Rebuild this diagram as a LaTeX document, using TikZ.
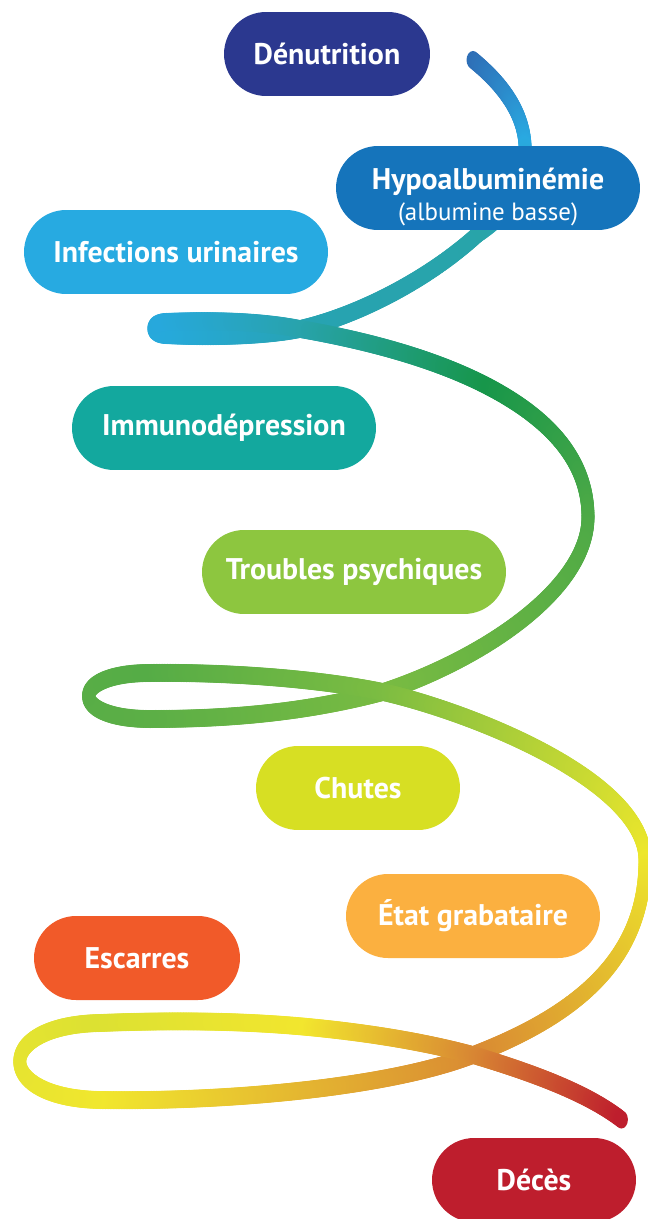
\documentclass[tikz,border=0pt]{standalone}
\usepackage{fontspec}
\setmainfont{PT Sans}
\usetikzlibrary{shapes.misc,decorations.markings}

% node colours
\definecolor{denutri}{HTML}{2B388F}
\definecolor{hypoalb}{HTML}{1574BB}
\definecolor{infect}{HTML}{27AAE1}
\definecolor{immuno}{HTML}{13A89E}
\definecolor{trouble}{HTML}{8DC63F}
\definecolor{chute}{HTML}{D7DF23}
\definecolor{grabat}{HTML}{FBB040}
\definecolor{escarre}{HTML}{F15A29}
\definecolor{deces}{HTML}{BE1E2D}
% spiral colours, from start to end
\definecolor{sp0}{HTML}{2E6EB6}
\definecolor{sp1}{HTML}{29A9E1}
\definecolor{sp2}{HTML}{28A4A9}
\definecolor{sp3}{HTML}{27A3B2}
\definecolor{sp4}{HTML}{26A9DA}
\definecolor{sp5}{HTML}{27A8DC}
\definecolor{sp6}{HTML}{28A3AE}
\definecolor{sp7}{HTML}{17964A}
\definecolor{sp8}{HTML}{4CA946}
\definecolor{sp9}{HTML}{79BB42}
\definecolor{sp10}{HTML}{5CAF46}
\definecolor{sp11}{HTML}{55AC46}
\definecolor{sp12}{HTML}{7BBC42}
\definecolor{sp13}{HTML}{EDE72B}
\definecolor{sp14}{HTML}{D98A33}
\definecolor{sp15}{HTML}{F1E72E}
\definecolor{sp16}{HTML}{DCE132}
\definecolor{sp17}{HTML}{F2E62E}
\definecolor{sp18}{HTML}{D98A33}
\definecolor{sp19}{HTML}{BE1E2D}

\tikzset{
  pill/.style={rounded rectangle, minimum height=1.68cm, inner sep=0pt,
    text=white, font=\bfseries\fontsize{17}{20}\selectfont},
  % flat brush: wider across horizontal runs than across vertical ones
  ribbon/.style 2 args={
    decoration={markings, mark=between positions 0 and 1 step 0.9pt with {
      \pgfmathsetmacro\mixpct{min(100,max(0,\pgfkeysvalueof{/pgf/decoration/mark info/distance from start}/\pgfdecoratedpathlength*100))}
      \pgftransformresetnontranslations
      \fill[#2!\mixpct!#1] (0,0) ellipse (0.13cm and 0.18cm);
    }},
    postaction={decorate}}
}

\begin{document}
\begin{tikzpicture}[x=0.02cm,y=-0.02cm]
\useasboundingbox (0,0) rectangle (647,1219);

% the spiral, piece by piece
\path[ribbon={sp0}{sp1}] (473,60) .. controls (500,82) and (523,110) .. (525,145);
\path[ribbon={sp1}{sp2}] (525,145) .. controls (528,190) and (510,212) .. (478,234);
\path[ribbon={sp2}{sp3}] (478,234) .. controls (430,278) and (360,315) .. (300,329);
\path[ribbon={sp3}{sp4}] (300,329) .. controls (260,337) and (200,337) .. (165,335);
\path[ribbon={sp4}{sp5}] (165,335) .. controls (150,334) and (150,323) .. (165,322);
\path[ribbon={sp5}{sp6}] (165,322) .. controls (210,320) and (260,321) .. (300,329);
\path[ribbon={sp6}{sp7}] (300,329) .. controls (360,339.5) and (432,357) .. (489,387);
\path[ribbon={sp7}{sp8}] (489,387) .. controls (546,417) and (588,458) .. (588,517);
\path[ribbon={sp8}{sp9}] (588,517) .. controls (588,590) and (480,660) .. (383,692);
\path[ribbon={sp9}{sp10}] (383,692) .. controls (300,714) and (220,719) .. (150,719);
\path[ribbon={sp10}{sp11}] (150,719) .. controls (68,719) and (68,673) .. (150,673);
\path[ribbon={sp11}{sp12}] (150,673) .. controls (230,672) and (320,679) .. (383,692);
\path[ribbon={sp12}{sp13}] (383,692) .. controls (470,712) and (645,780) .. (645,860);
\path[ribbon={sp13}{sp14}] (645,860) .. controls (645,950) and (590,1010) .. (473,1055);
\path[ribbon={sp14}{sp15}] (473,1055) .. controls (390,1087) and (230,1102) .. (100,1100);
\path[ribbon={sp15}{sp16}] (100,1100) .. controls (-7,1098) and (-7,1025) .. (100,1023);
\path[ribbon={sp16}{sp17}] (100,1023) .. controls (175,1020) and (245,1021) .. (308,1027);
\path[ribbon={sp17}{sp18}] (308,1027) .. controls (371,1033) and (426.5,1042.5) .. (473,1055);
\path[ribbon={sp18}{sp19}] (473,1055) .. controls (540,1075) and (590,1095) .. (622,1120);

% the steps
\node[pill, fill=denutri, minimum width=4.12cm] (denutrition) at (327,54) {Dénutrition};
\node[pill, fill=hypoalb, minimum width=6.08cm] (hypoalb) at (488,188) {};
\node[align=center, text=white, font=\bfseries\fontsize{17}{20}\selectfont] (hypotext) at (488,197)
  {Hypoalbuminémie\\[-2pt]{\mdseries\fontsize{14.2}{17}\selectfont (albumine basse)}};
\node[pill, fill=infect, minimum width=6.08cm] (infections) at (176,252) {Infections urinaires};
\node[pill, fill=immuno, minimum width=6.08cm] (immuno) at (224,428) {Immunodépression};
\node[pill, fill=trouble, minimum width=6.08cm] (troubles) at (354,572) {Troubles psychiques};
\node[pill, fill=chute, minimum width=4.08cm] (chutes) at (358,788) {Chutes};
\node[pill, fill=grabat, minimum width=5.08cm] (grabataire) at (473,916) {État grabataire};
\node[pill, fill=escarre, minimum width=4.12cm] (escarres) at (137,958) {Escarres};
\node[pill, fill=deces, minimum width=4.08cm] (deces) at (534,1180) {Décès};
\end{tikzpicture}
\end{document}
